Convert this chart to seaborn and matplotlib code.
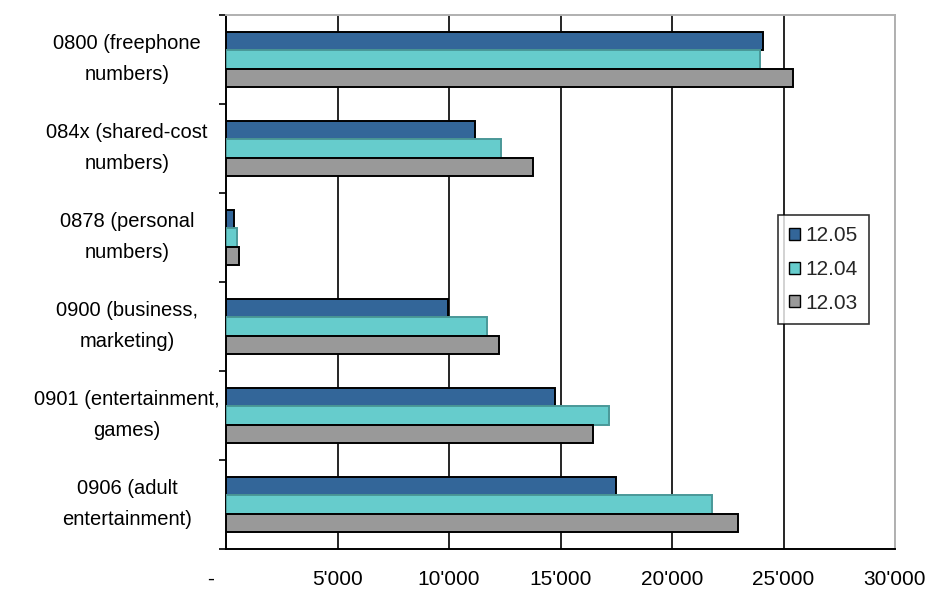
import matplotlib
matplotlib.use("Agg")
import matplotlib.pyplot as plt
import matplotlib.transforms as mtransforms
from matplotlib.patches import Patch
from matplotlib.ticker import FuncFormatter, FixedLocator
import seaborn as sns
import pandas as pd

# Number ranges (category labels, two lines each)
categories = [
    "0800 (freephone\nnumbers)",
    "084x (shared-cost\nnumbers)",
    "0878 (personal\nnumbers)",
    "0900 (business,\nmarketing)",
    "0901 (entertainment,\ngames)",
    "0906 (adult\nentertainment)",
]
periods = ["12.05", "12.04", "12.03"]

# Count of numbers allocated per range at each reference date
values_1205 = [24100, 11150, 360, 9950, 14750, 17470]
values_1204 = [23950, 12330, 480, 11720, 17190, 21780]
values_1203 = [25430, 13770, 570, 12240, 16470, 22940]

colors = {"12.05": "#336699", "12.04": "#66CCCC", "12.03": "#999999"}
x_ticks = [0, 5000, 10000, 15000, 20000, 25000, 30000]

df = pd.DataFrame({
    "range": categories * 3,
    "period": [p for p in periods for _ in categories],
    "count": values_1205 + values_1204 + values_1203,
})

sns.set_theme(style="white")
plt.rcParams["font.family"] = ["Liberation Sans", "DejaVu Sans"]

fig = plt.figure(figsize=(9.27, 5.90), dpi=100)
ax = fig.add_axes([226 / 927, 1 - 549 / 590, (895 - 226) / 927, (549 - 15) / 590])

sns.barplot(
    data=df, y="range", x="count", hue="period",
    hue_order=periods, order=categories, palette=colors, saturation=1,
    orient="h", width=0.62, edgecolor="black", linewidth=1.4,
    legend=False, ax=ax, zorder=3,
)
# turquoise bars carry a softer outline
for bar in ax.containers[1]:
    bar.set_edgecolor("#4a9898")

ax.set_xlim(0, 30000)
ax.set_ylim(len(categories) - 0.5, -0.5)
ax.set_xlabel("")
ax.set_ylabel("")

# x axis: ticks every 5'000 with apostrophe thousands separator
ax.xaxis.set_major_locator(FixedLocator(x_ticks))
ax.xaxis.set_major_formatter(FuncFormatter(
    lambda v, p: "-     " if v == 0 else f"{int(v):,}".replace(",", "'")))
ax.tick_params(axis="x", direction="out", length=5, width=1.2, color="black",
               labelsize=15, pad=10, labelcolor="black")

# y axis: tick marks on category boundaries, centred two-line labels
ax.set_yticks(range(len(categories)))
ax.set_yticklabels([""] * len(categories))
ax.set_yticks([i - 0.5 for i in range(len(categories) + 1)], minor=True)
ax.tick_params(axis="y", which="major", length=0)
ax.tick_params(axis="y", which="minor", direction="out", length=5, width=1.2,
               color="black", left=True)
label_tf = (mtransforms.blended_transform_factory(ax.transAxes, ax.transData)
            + mtransforms.ScaledTranslation(0, 0.005, fig.dpi_scale_trans))
for i, name in enumerate(categories):
    ax.text(-99 / 669, i, name, transform=label_tf, ha="center", va="center",
            multialignment="center", linespacing=1.85, fontsize=14.5,
            color="black")

# vertical gridlines
ax.grid(axis="x", color="black", linewidth=1.2, zorder=0)
ax.set_axisbelow(True)
gl = ax.get_xgridlines()
gl[0].set_visible(False)
gl[-1].set_color("#b0b0b0")

for side in ["left", "bottom"]:
    ax.spines[side].set_color("black")
    ax.spines[side].set_linewidth(1.4)
for side in ["top", "right"]:
    ax.spines[side].set_color("#b0b0b0")
    ax.spines[side].set_linewidth(1.4)

handles = [Patch(facecolor=colors[p], edgecolor="black", linewidth=1.0) for p in periods]
leg = ax.legend(
    handles, periods, loc="upper left", bbox_to_anchor=(0.825, 0.6255),
    borderaxespad=0, frameon=True, fancybox=False, fontsize=15,
    handlelength=0.5, handleheight=0.5, handletextpad=0.25,
    labelspacing=0.7, borderpad=0.55,
)
leg.get_frame().set_edgecolor("black")
leg.get_frame().set_linewidth(1.2)

fig.savefig("out.png", dpi=100, facecolor="white")
